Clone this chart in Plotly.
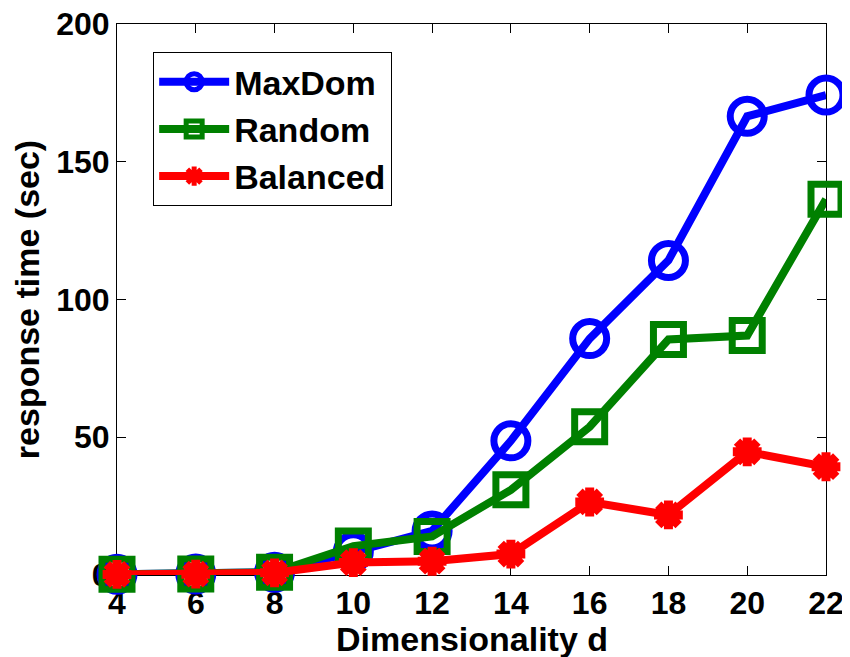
import plotly.graph_objects as go

dims = [4, 6, 8, 10, 12, 14, 16, 18, 20, 22]
maxdom = [0.3, 0.4, 1.0, 8.4, 16, 48.7, 85.8, 114.2, 166.5, 174.2]
random_ = [0.3, 0.4, 1.0, 10.5, 14, 30.9, 53.8, 85.5, 86.9, 136.4]
balanced = [0.2, 0.3, 0.8, 4.5, 5, 7.6, 26.5, 21.8, 44.7, 39.3]

x_ticks = [4, 6, 8, 10, 12, 14, 16, 18, 20, 22]
y_ticks = [0, 50, 100, 150, 200]

FONT = "Liberation Sans, Arial, sans-serif"

fig = go.Figure()
fig.add_trace(go.Scatter(
    x=dims, y=maxdom, name="MaxDom", mode="lines+markers", cliponaxis=False,
    line=dict(color="#0000FF", width=8),
    marker=dict(symbol="circle-open", size=34, color="#0000FF", line=dict(width=7, color="#0000FF")),
))
fig.add_trace(go.Scatter(
    x=dims, y=random_, name="Random", mode="lines+markers", cliponaxis=False,
    line=dict(color="#008000", width=8),
    marker=dict(symbol="square-open", size=30, color="#008000", line=dict(width=7, color="#008000")),
))
fig.add_trace(go.Scatter(
    x=dims, y=balanced, name="Balanced", mode="lines+markers", cliponaxis=False,
    line=dict(color="#FF0000", width=8),
    marker=dict(symbol="asterisk-open", size=24, color="#FF0000", line=dict(width=9, color="#FF0000")),
))

axis_common = dict(
    showline=True, linecolor="black", linewidth=1, mirror="ticks",
    ticks="inside", ticklen=9, tickcolor="black", showgrid=False, zeroline=False,
    tickfont=dict(family=FONT, size=32, color="black", weight="bold"),
    layer="below traces", ticklabeloverflow="allow", automargin=False,
)

fig.update_xaxes(
    range=[4, 22], tickvals=x_ticks, ticktext=[str(v) for v in x_ticks],
    **axis_common,
)
fig.update_yaxes(
    range=[0, 200], tickvals=y_ticks, ticktext=[str(v) for v in y_ticks],
    title=dict(text="response time (sec)", font=dict(family=FONT, size=34, color="black", weight="bold"), standoff=6),
    **axis_common,
)

fig.add_annotation(
    text="Dimensionality d", xref="paper", yref="paper", x=0.5, y=0,
    xanchor="center", yanchor="middle", yshift=-64, showarrow=False,
    font=dict(family=FONT, size=34, color="black", weight="bold"),
)

fig.update_layout(
    width=850, height=657,
    margin=dict(l=109, r=32, t=16, b=90),
    paper_bgcolor="white", plot_bgcolor="white",
    showlegend=True,
    legend=dict(
        x=0.051, y=0.949, xanchor="left", yanchor="top",
        bgcolor="white", bordercolor="black", borderwidth=1,
        font=dict(family=FONT, size=34, color="black", weight="bold"),
        tracegroupgap=0, itemwidth=70,
    ),
)

fig.write_html("out.html")
